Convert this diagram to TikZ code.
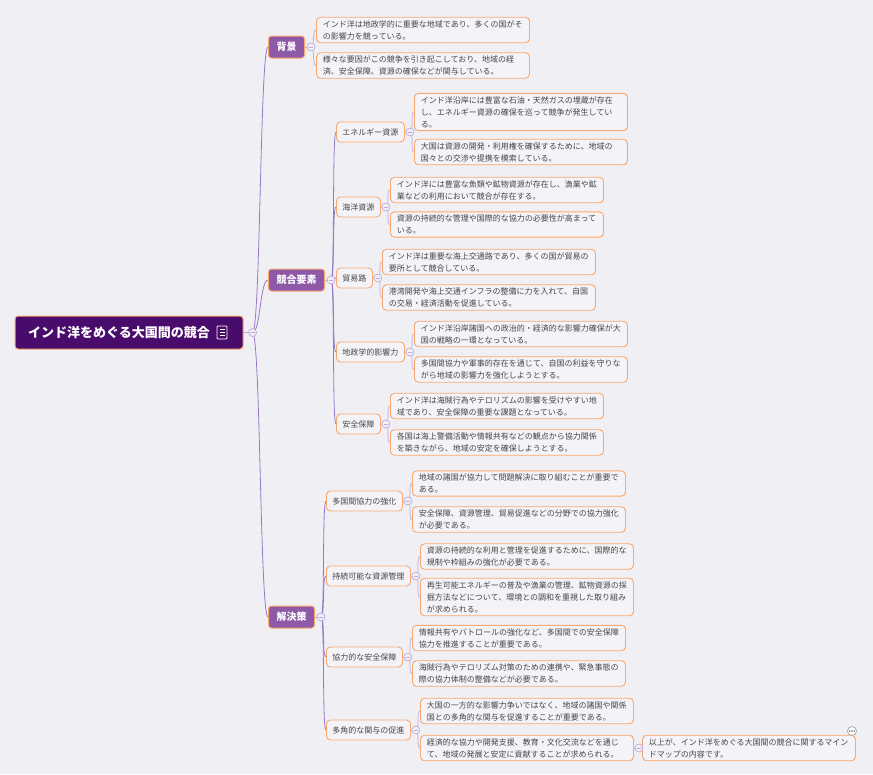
\documentclass[tikz,border=0pt]{standalone}
\usepackage{fontspec}
\setmainfont{Noto Sans CJK JP}
\usetikzlibrary{positioning, calc}
\definecolor{mapbg}{RGB}{240,240,244}
\definecolor{rootpurple}{RGB}{74,12,108}
\definecolor{branchpurple}{RGB}{142,90,168}
\definecolor{edgeorange}{RGB}{250,168,108}
\definecolor{linkpurple}{RGB}{150,120,200}
\definecolor{leaflink}{RGB}{190,170,220}
\definecolor{leaftext}{RGB}{70,70,70}
\definecolor{leaffill}{RGB}{244,243,247}

\tikzset{
  rootbox/.style={draw=edgeorange, fill=rootpurple, line width=1pt, rounded corners=3pt, text=white,
    font=\fontsize{13}{15}\selectfont\bfseries, minimum width=228pt, minimum height=33pt, inner xsep=0pt},
  branchbox/.style={draw=edgeorange, fill=branchpurple, line width=1pt, rounded corners=3pt, text=white,
    font=\fontsize{10}{12}\selectfont\bfseries, minimum height=22pt, inner xsep=8pt, anchor=west},
  topicbox/.style={draw=edgeorange, fill=leaffill, line width=0.9pt, rounded corners=4pt, text=leaftext,
    font=\fontsize{8}{12}\selectfont, minimum height=20pt, inner xsep=6pt, anchor=west},
  leafbox/.style={topicbox, text width=200pt, inner xsep=6.5pt, inner ysep=3pt, align=left, minimum height=0pt},
  trunkline/.style={linkpurple, line width=0.8pt},
  leafline/.style={leaflink, line width=0.7pt},
  dot/.style={circle, draw=leaflink, fill=mapbg, line width=0.7pt, minimum size=8pt, inner sep=0pt}
}

\begin{document}
\begin{tikzpicture}[x=1pt, y=-1pt]
        \fill[mapbg] (0,0) rectangle (873,774);
        \useasboundingbox (0,0) rectangle (873,774);

        % root
        \node[rootbox] (root) at (129,332.5) {インド洋をめぐる大国間の競合\kern20pt};
        \draw[white, line width=0.8pt, rounded corners=1pt] (217,326) rectangle (227,339);
        \foreach \y in {329.5,332.5,335.5}
            \draw[white, line width=0.7pt] (219.5,\y) -- (224.5,\y);

        % main branches
        \node[branchbox] (bg) at (268,47) {背景};
        \node[branchbox] (comp) at (268,280) {競合要素};
        \node[branchbox] (sol) at (268,617) {解決策};

        % 背景
        \node[leafbox] (bg1) at (316,30) {インド洋は地政学的に重要な地域であり、多くの国がそ\\の影響力を競っている。};
        \node[leafbox] (bg2) at (316,65.5) {様々な要因がこの競争を引き起こしており、地域の経\\済、安全保障、資源の確保などが関与している。};

        % 競合要素
        \node[topicbox] (energy) at (336,132) {エネルギー資源};
        \node[topicbox] (marine) at (336,207) {海洋資源};
        \node[topicbox] (trade) at (336,278) {貿易路};
        \node[topicbox] (geo) at (336,352) {地政学的影響力};
        \node[topicbox] (secu) at (336,424) {安全保障};

        \node[leafbox] (energy1) at (414,112) {インド洋沿岸には豊富な石油・天然ガスの埋蔵が存在\\し、エネルギー資源の確保を巡って競争が発生してい\\る。};
        \node[leafbox] (energy2) at (414,152) {大国は資源の開発・利用権を確保するために、地域の\\国々との交渉や提携を模索している。};
        \node[leafbox] (marine1) at (390,190) {インド洋には豊富な魚類や鉱物資源が存在し、漁業や鉱\\業などの利用において競合が存在する。};
        \node[leafbox] (marine2) at (390,224.5) {資源の持続的な管理や国際的な協力の必要性が高まって\\いる。};
        \node[leafbox] (trade1) at (382,262) {インド洋は重要な海上交通路であり、多くの国が貿易の\\要所として競合している。};
        \node[leafbox] (trade2) at (382,297.5) {港湾開発や海上交通インフラの整備に力を入れて、自国\\の交易・経済活動を促進している。};
        \node[leafbox] (geo1) at (414,334) {インド洋沿岸諸国への政治的・経済的な影響力確保が大\\国の戦略の一環となっている。};
        \node[leafbox] (geo2) at (414,369.5) {多国間協力や軍事的存在を通じて、自国の利益を守りな\\がら地域の影響力を強化しようとする。};
        \node[leafbox] (secu1) at (390,406) {インド洋は海賊行為やテロリズムの影響を受けやすい地\\域であり、安全保障の重要な課題となっている。};
        \node[leafbox] (secu2) at (390,442.5) {各国は海上警備活動や情報共有などの観点から協力関係\\を築きながら、地域の安定を確保しようとする。};

        % 解決策
        \node[topicbox] (multi) at (326,501) {多国間協力の強化};
        \node[topicbox] (sust) at (326,576) {持続可能な資源管理};
        \node[topicbox] (coop) at (326,657) {協力的な安全保障};
        \node[topicbox] (engage) at (326,730) {多角的な関与の促進};

        \node[leafbox] (multi1) at (412,483.5) {地域の諸国が協力して問題解決に取り組むことが重要で\\ある。};
        \node[leafbox] (multi2) at (412,519.5) {安全保障、資源管理、貿易促進などの分野での協力強化\\が必要である。};
        \node[leafbox] (sust1) at (420,556.5) {資源の持続的な利用と管理を促進するために、国際的な\\規制や枠組みの強化が必要である。};
        \node[leafbox] (sust2) at (420,597) {再生可能エネルギーの普及や漁業の管理、鉱物資源の採\\掘方法などについて、環境との調和を重視した取り組み\\が求められる。};
        \node[leafbox] (coop1) at (412,638) {情報共有やパトロールの強化など、多国間での安全保障\\協力を推進することが重要である。};
        \node[leafbox] (coop2) at (412,673.5) {海賊行為やテロリズム対策のための連携や、緊急事態の\\際の協力体制の整備などが必要である。};
        \node[leafbox] (engage1) at (420,711) {大国の一方的な影響力争いではなく、地域の諸国や関係\\国との多角的な関与を促進することが重要である。};
        \node[leafbox] (engage2) at (420,748) {経済的な協力や開発支援、教育・文化交流などを通じ\\て、地域の発展と安定に貢献することが求められる。};
        \node[leafbox] (wrap) at (642,748) {以上が、インド洋をめぐる大国間の競合に関するマイン\\ドマップの内容です。};

        % comment mark
        \node[circle, draw=gray!70, fill=white, line width=0.7pt, minimum size=9pt, inner sep=0pt] (note) at (852,731) {};
        \foreach \dx in {-2.2,0,2.2}
            \fill[gray!80!black] ($(note)+(\dx,0)$) circle (0.8pt);

        % collapse dots
        \coordinate (rootdot) at ([xshift=9pt]root.east);
        \foreach \n in {bg,comp,sol}
            \coordinate (\n dot) at ([xshift=6pt]\n.east);
        \foreach \n in {energy,marine,trade,geo,secu,multi,sust,coop,engage,engage2}
            \coordinate (\n dot) at ([xshift=5pt]\n.east);

        % connectors
        \foreach \a in {root,bg,comp,sol,energy,marine,trade,geo,secu,multi,sust,coop,engage,engage2}
            \draw[leafline] (\a.east) -- (\a dot);
        \foreach \b in {bg,comp,sol}
            \draw[trunkline] (rootdot) .. controls +(8,0) and +(-8,0) .. (\b.west);
        \foreach \a/\b in {comp/energy, comp/marine, comp/trade, comp/geo, comp/secu,
                           sol/multi, sol/sust, sol/coop, sol/engage}
            \draw[trunkline] (\a dot) .. controls +(4,0) and +(-4,0) .. (\b.west);
        \foreach \a/\b in {bg/bg1, bg/bg2, energy/energy1, energy/energy2, marine/marine1, marine/marine2,
                           trade/trade1, trade/trade2, geo/geo1, geo/geo2, secu/secu1, secu/secu2,
                           multi/multi1, multi/multi2, sust/sust1, sust/sust2, coop/coop1, coop/coop2,
                           engage/engage1, engage/engage2, engage2/wrap}
            \draw[leafline] (\a dot) .. controls +(4,0) and +(-4,0) .. (\b.west);

        \foreach \d in {rootdot,bgdot,compdot,soldot,energydot,marinedot,tradedot,geodot,secudot,
                        multidot,sustdot,coopdot,engagedot,engage2dot} {
            \node[dot] at (\d) {};
            \draw[leaflink, line width=0.7pt] ($(\d)+(-2.2,0)$) -- ($(\d)+(2.2,0)$);
        }
    \end{tikzpicture}
\end{document}
